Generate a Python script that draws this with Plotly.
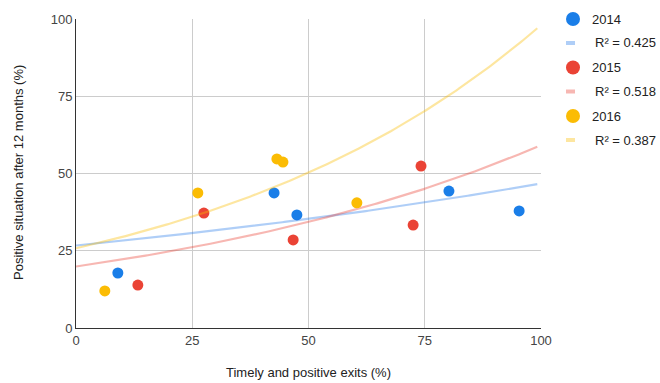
import numpy as np
import plotly.graph_objects as go

years = ["2014", "2015", "2016"]
x_2014 = [9.0, 42.6, 47.5, 80.2, 95.3]
y_2014 = [17.8, 43.7, 36.6, 44.3, 37.9]
x_2015 = [13.3, 27.5, 46.7, 72.5, 74.2]
y_2015 = [13.9, 37.2, 28.5, 33.3, 52.4]
x_2016 = [6.2, 26.2, 43.2, 44.5, 60.4]
y_2016 = [12.0, 43.7, 54.7, 53.7, 40.5]
r2_labels = ["0.425", "0.518", "0.387"]
# exponential trend parameters y = a * exp(b * x)
trend_a = [26.7, 19.9, 25.8]
trend_b = [0.00560, 0.01090, 0.01335]
tick_vals = [0, 25, 50, 75, 100]

point_colors = ["#1a7ee8", "#ea4335", "#fbbc04"]
line_colors = ["rgba(26,115,232,0.35)", "rgba(234,67,53,0.38)", "rgba(251,188,4,0.38)"]

xs = [x_2014, x_2015, x_2016]
ys = [y_2014, y_2015, y_2016]

W, H = 660, 383
L, R, T, B = 76, 119, 19, 55
pw, ph = W - L - R, H - T - B

def px(xp):
    return (xp - L) / pw

def py(yp):
    return (H - B - yp) / ph

FONT = "Liberation Sans, Arial, sans-serif"

fig = go.Figure()
xt = np.linspace(0, 99.2, 200)
for i, yr in enumerate(years):
    fig.add_trace(go.Scatter(
        x=xs[i], y=ys[i], mode="markers", name=yr,
        marker=dict(color=point_colors[i], size=11, line=dict(width=0)),
    ))
    fig.add_trace(go.Scatter(
        x=xt, y=trend_a[i] * np.exp(trend_b[i] * xt), mode="lines",
        name="R\u00b2 = " + r2_labels[i],
        line=dict(color=line_colors[i], width=2.2),
    ))

# custom legend
shapes = []
annotations = []
for i, yr in enumerate(years):
    yc = 19 + i * 48.5
    yl = yc + 24
    shapes.append(dict(type="circle", xref="paper", yref="paper",
                       x0=px(566), x1=px(580), y0=py(yc + 7), y1=py(yc - 7),
                       fillcolor=point_colors[i], line=dict(width=0)))
    shapes.append(dict(type="line", xref="paper", yref="paper",
                       x0=px(566), x1=px(575), y0=py(yl), y1=py(yl),
                       line=dict(color=line_colors[i], width=4)))
    annotations.append(dict(text=yr, xref="paper", yref="paper", x=px(590), y=py(yc),
                            xanchor="left", yanchor="middle", showarrow=False,
                            font=dict(family=FONT, size=13, color="#222222")))
    annotations.append(dict(text="R\u00b2 = " + r2_labels[i], xref="paper", yref="paper",
                            x=px(593), y=py(yl), xanchor="left", yanchor="middle",
                            showarrow=False,
                            font=dict(family=FONT, size=13, color="#222222")))

annotations.append(dict(text="Timely and positive exits (%)", xref="paper", yref="paper",
                        x=px(308), y=py(372), xanchor="center", yanchor="middle",
                        showarrow=False, font=dict(family=FONT, size=13, color="#222222")))
annotations.append(dict(text="Positive situation after 12 months (%)", xref="paper",
                        yref="paper", x=px(18), y=py(173), xanchor="center",
                        yanchor="middle", textangle=-90, showarrow=False,
                        font=dict(family=FONT, size=13, color="#222222")))

axis_font = dict(family=FONT, size=13, color="#444444")
fig.update_layout(
    width=W, height=H,
    margin=dict(l=L, r=R, t=T, b=B, autoexpand=False),
    paper_bgcolor="white", plot_bgcolor="white",
    font=dict(family=FONT, size=13, color="#222222"),
    showlegend=False,
    shapes=shapes, annotations=annotations,
    xaxis=dict(range=[0, 100], tickvals=tick_vals, showgrid=True, gridcolor="#cccccc",
               gridwidth=1, zeroline=False, showline=True, linecolor="#333333",
               linewidth=1, ticks="", tickfont=axis_font, automargin=False),
    yaxis=dict(range=[0, 100], tickvals=tick_vals, showgrid=True, gridcolor="#cccccc",
               gridwidth=1, zeroline=False, showline=True, linecolor="#333333",
               linewidth=1, ticks="", tickfont=axis_font, automargin=False),
)

fig.write_html("out.html", config={"displayModeBar": False},
               post_script="document.body.style.margin='0';")
